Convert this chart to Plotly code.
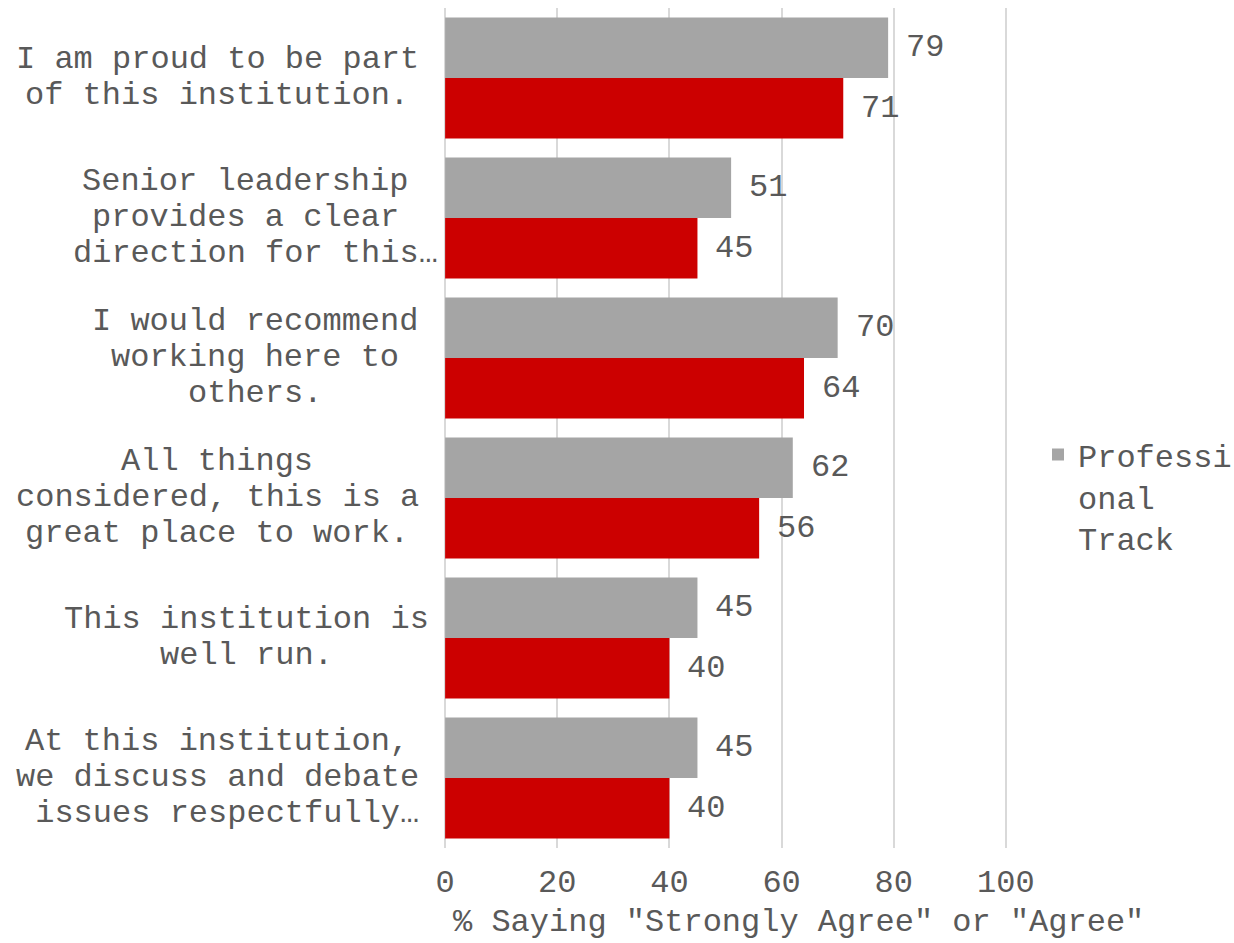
import plotly.graph_objects as go

# Survey statements (wrapped lines), top to bottom
statements = [
    ["I am proud to be part", "of this institution."],
    ["Senior leadership\u00a0", "provides a clear\u00a0", "direction for this…"],
    ["I would recommend", "working here to", "others."],
    ["All things", "considered, this is a", "great place to work."],
    ["This institution is", "well run."],
    ["At this institution,", "we discuss and debate", "\u00a0issues respectfully…"],
]
categories = [" ".join(s).strip() for s in statements]

# % saying "Strongly Agree" or "Agree"
professional_track = [79, 51, 70, 62, 45, 45]
overall = [71, 45, 64, 56, 40, 40]

x_ticks = [0, 20, 40, 60, 80, 100]

FONT = "Liberation Mono, Courier New, monospace"
TXT = "#595959"
GRAY = "#a5a5a5"
RED = "#cc0000"
FS = 32

# horizontal centres (px) of each wrapped label block
label_center_px = [217, 255, 255, 217, 246, 217]

ML, MR, MT, MB = 444, 227, 8, 95
W, H = 1234, 943
plot_w = W - ML - MR
plot_h = H - MT - MB
band = plot_h / len(categories)

fig = go.Figure()
fig.add_trace(go.Bar(
    y=categories, x=professional_track, orientation="h",
    name="Professi<br>onal<br>Track", marker=dict(color=GRAY, line=dict(width=0)),
    showlegend=True,
))
fig.add_trace(go.Bar(
    y=categories, x=overall, orientation="h",
    name="Overall", marker=dict(color=RED, line=dict(width=0)),
    showlegend=False,
))

annotations = []
bar_h = band * (1 - 0.136) / 2
# value labels
for cat, a, b in zip(categories, professional_track, overall):
    for v, sh in ((a, bar_h / 2), (b, -bar_h / 2)):
        annotations.append(dict(
            x=v, y=cat, xref="x", yref="y", text=str(v), showarrow=False,
            xanchor="left", yanchor="middle", xshift=16, yshift=sh,
            font=dict(family=FONT, size=FS, color=TXT),
        ))

# category labels, one annotation per wrapped line
line_step = 36
for cat, lines, cpx in zip(categories, statements, label_center_px):
    n = len(lines)
    for i, ln in enumerate(lines):
        annotations.append(dict(
            x=(cpx - ML) / plot_w, y=cat, xref="paper", yref="y", text=ln,
            showarrow=False, xanchor="center", yanchor="middle",
            yshift=((n - 1) / 2 - i) * line_step + 1,
            font=dict(family=FONT, size=FS, color=TXT),
        ))

# x axis title
annotations.append(dict(
    x=(798 - ML) / plot_w, y=-(923 - (MT + plot_h)) / plot_h, xref="paper", yref="paper",
    text='% Saying "Strongly Agree" or "Agree"', showarrow=False,
    xanchor="center", yanchor="middle",
    font=dict(family=FONT, size=FS, color=TXT),
))

fig.update_layout(
    width=W, height=H,
    margin=dict(l=ML, r=MR, t=MT, b=MB, pad=0, autoexpand=False),
    paper_bgcolor="white", plot_bgcolor="white",
    barmode="group", bargap=0.136, bargroupgap=0,
    font=dict(family=FONT, size=FS, color=TXT),
    xaxis=dict(
        range=[-0.2, 100.2], tickvals=x_ticks, ticktext=[str(t) for t in x_ticks],
        showgrid=True, gridcolor="#d9d9d9", gridwidth=1.5,
        zeroline=False, showline=False, ticks="", ticklabelstandoff=11,
        tickfont=dict(family=FONT, size=FS, color=TXT),
    ),
    yaxis=dict(
        autorange="reversed", showticklabels=False, showgrid=False,
        zeroline=False, showline=False, ticks="",
    ),
    legend=dict(
        x=(1038 - ML) / plot_w, y=0.501, xanchor="left", yanchor="top",
        valign="top", font=dict(family=FONT, size=FS, color=TXT),
        bgcolor="rgba(0,0,0,0)",
    ),
    annotations=annotations,
)

fig.write_html("out.html")
